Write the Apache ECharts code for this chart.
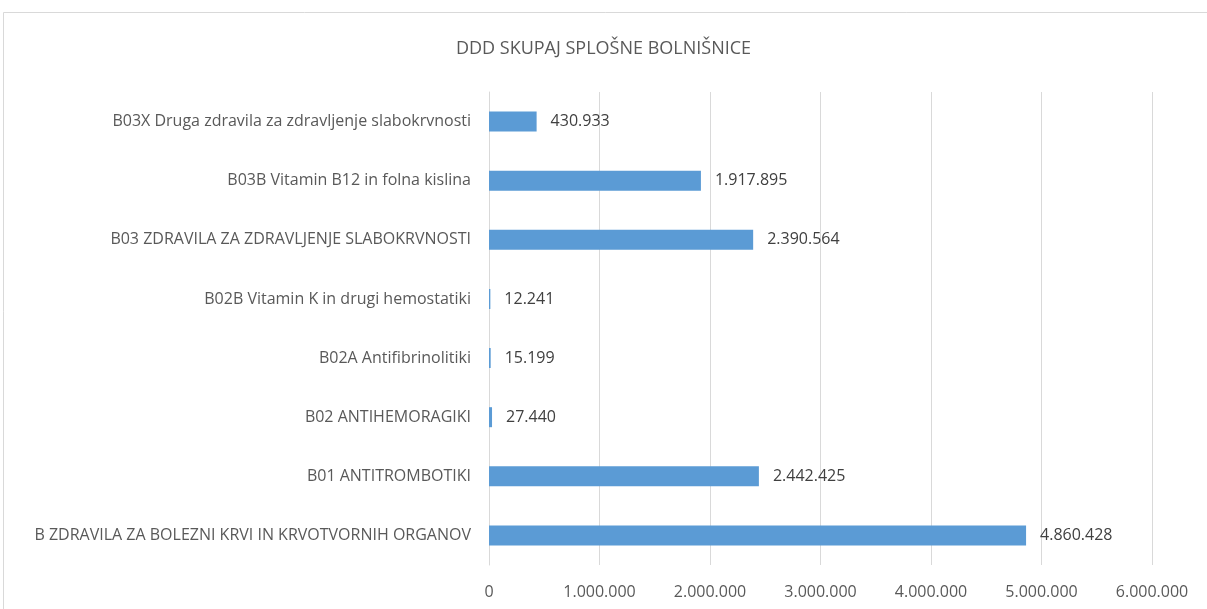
<!DOCTYPE html>
<html>
<head>
<meta charset="utf-8">
<script src="https://cdn.jsdelivr.net/npm/echarts@6/dist/echarts.min.js"></script>
<style>
  html, body { margin: 0; padding: 0; background: #fff; }
  #main { width: 1207px; height: 609px; }
</style>
</head>
<body>
<div id="main"></div>
<script>
// categories, bottom to top as drawn
var categories = [
    'B ZDRAVILA ZA BOLEZNI KRVI IN KRVOTVORNIH ORGANOV',
    'B01 ANTITROMBOTIKI',
    'B02 ANTIHEMORAGIKI',
    'B02A Antifibrinolitiki',
    'B02B Vitamin K in drugi hemostatiki',
    'B03 ZDRAVILA ZA ZDRAVLJENJE SLABOKRVNOSTI',
    'B03B Vitamin B12 in folna kislina',
    'B03X Druga zdravila za zdravljenje slabokrvnosti'
];
var dddValues = [4860428, 2442425, 27440, 15199, 12241, 2390564, 1917895, 430933];

function dots(v) {
    return String(v).replace(/\B(?=(\d{3})+(?!\d))/g, '.');
}

var chart = echarts.init(document.getElementById('main'));

var font = 'Open Sans';

var option = {
    backgroundColor: '#fff',
    title: {
        text: 'DDD SKUPAJ SPLOŠNE BOLNIŠNICE',
        left: 'center',
        top: 35,
        textStyle: {
            fontFamily: font,
            fontSize: 18,
            fontWeight: 'normal',
            color: '#595959'
        }
    },
    graphic: [{
        type: 'rect',
        shape: { x: 3.5, y: 12.5, width: 1220, height: 620 },
        style: { fill: 'none', stroke: '#d9d9d9', lineWidth: 1 },
        silent: true
    }],
    grid: {
        left: 489,
        right: 55,
        top: 92,
        bottom: 44
    },
    xAxis: {
        type: 'value',
        min: 0,
        max: 6000000,
        interval: 1000000,
        axisLine: { show: false },
        axisTick: { show: false },
        splitLine: { lineStyle: { color: '#d9d9d9', width: 1 } },
        axisLabel: {
            margin: 19,
            fontFamily: font,
            fontSize: 16,
            color: '#595959',
            formatter: function (v) { return dots(v); }
        }
    },
    yAxis: {
        type: 'category',
        data: categories,
        axisLine: { show: true, lineStyle: { color: '#d9d9d9' } },
        axisTick: { show: false },
        axisLabel: {
            margin: 18,
            fontFamily: font,
            fontSize: 16,
            color: '#595959'
        }
    },
    series: [{
        type: 'bar',
        data: dddValues,
        barWidth: 20,
        itemStyle: { color: '#5b9bd5' },
        label: {
            show: true,
            position: 'right',
            distance: 14,
            fontFamily: font,
            fontSize: 16,
            color: '#404040',
            formatter: function (p) { return dots(p.value); }
        }
    }]
};

chart.setOption(option);
</script>
</body>
</html>
